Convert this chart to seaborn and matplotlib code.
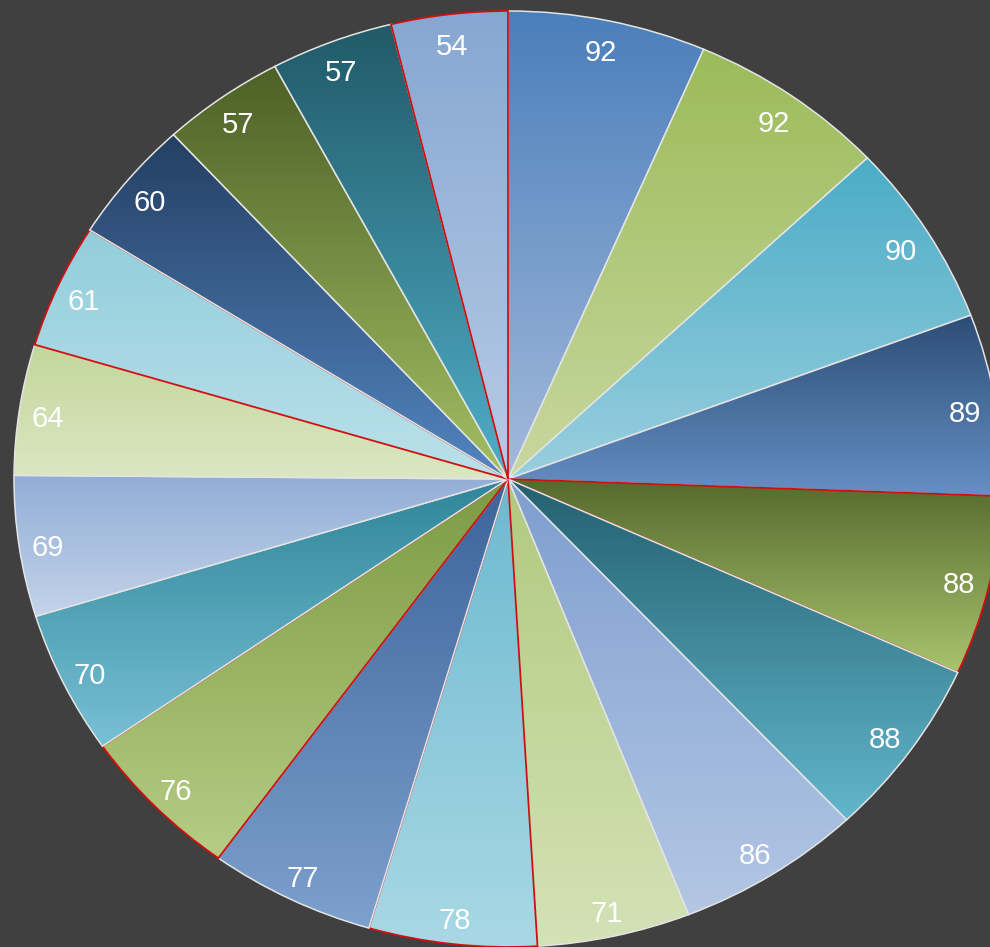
import numpy as np
import matplotlib
matplotlib.use("Agg")
import matplotlib.pyplot as plt
import matplotlib.transforms as mtransforms
import seaborn as sns

# ---- data (clockwise from 12 o'clock) ----
values = [92, 92, 90, 89, 88, 88, 86, 71, 78, 77, 76, 70, 69, 64, 61, 60, 57, 57, 54]
top_colors = ["#4A7EBB", "#9BBB59", "#4BACC6", "#2C4D75", "#55692C", "#23606F",
              "#7E9ECF", "#B0C97E", "#6CB9CF", "#3C649A", "#7C9A43", "#2F8599",
              "#92AED6", "#C3D69B", "#92CDDC", "#243F63", "#4D6026", "#215A68",
              "#86A7D2"]
bottom_colors = ["#A3BADB", "#C8D8A0", "#9ACFDF", "#6690C5", "#A8C46E", "#62B6CC",
                 "#B4C7E4", "#D4E2B6", "#A9D8E5", "#7DA0CD", "#B6CD85", "#78C0D5",
                 "#C3D3EA", "#DCE7C3", "#BBE1EA", "#5385C0", "#A3C064", "#50AEC8",
                 "#B8CBE5"]
red_edged = [4, 8, 10, 14, 18]

sns.set_theme(style="white")
plt.rcParams["font.family"] = ["Liberation Sans", "DejaVu Sans"]

W, H = 990, 947
fig = plt.figure(figsize=(W / 100, H / 100), dpi=100, facecolor="#404040")

# pie geometry in pixels (ellipse): centre and radii
cx, cy, rx, ry = 508, 479, 494, 468
lim = 1.05
aw, ah = 2 * lim * rx, 2 * lim * ry
ax = fig.add_axes([(cx - aw / 2) / W, (H - cy - ah / 2) / H, aw / W, ah / H])
ax.set_facecolor("#404040")

total = float(sum(values))
wedges, texts, autotexts = ax.pie(
    values, startangle=90, counterclock=False, radius=1.0,
    autopct=lambda p: f"{round(p * total / 100):d}", pctdistance=0.94,
    textprops=dict(color="white", fontsize=21),
    wedgeprops=dict(linewidth=0),
)

grad = np.linspace(0, 1, 256).reshape(-1, 1)
for i, w in enumerate(wedges):
    ext = w.get_path().get_extents()
    cmap = sns.blend_palette([bottom_colors[i], top_colors[i]], n_colors=256, as_cmap=True)
    im = ax.imshow(grad, extent=(ext.x0, ext.x1, ext.y0, ext.y1), origin="lower",
                   cmap=cmap, aspect="auto", interpolation="bilinear", zorder=2 * i + 2)
    im.set_clip_path(w)
    w.set_facecolor("none")
    w.set_zorder(2 * i + 3)
    if i in red_edged:
        w.set_edgecolor("#D01010")
        w.set_linewidth(1.3)
    else:
        w.set_edgecolor("#E4E4E4")
        w.set_linewidth(1.1)

shift = mtransforms.ScaledTranslation(-1 / 100, -5 / 100, fig.dpi_scale_trans)
for t in autotexts:
    t.set_zorder(100)
    t.set_transform(t.get_transform() + shift)

ax.set_aspect("auto")
ax.set_xlim(-lim, lim)
ax.set_ylim(-lim, lim)
ax.axis("off")

fig.savefig("out.png", dpi=100, facecolor=fig.get_facecolor())
